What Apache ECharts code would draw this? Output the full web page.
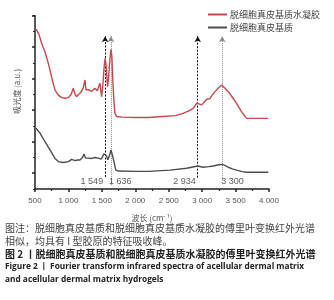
<!DOCTYPE html>
<html><head><meta charset="utf-8">
<script src="https://cdn.jsdelivr.net/npm/echarts@6/dist/echarts.min.js"></script>
<style>html,body{margin:0;padding:0;background:#fff}#c{width:334px;height:300px}</style>
</head><body><div id="c"></div>
<script>
// ---- data (wavenumber cm-1, absorbance a.u.) ----
const seriesNames = ['脱细胞真皮基质水凝胶', '脱细胞真皮基质'];
const hydrogelSpectrum = [[520,5.07],[560,4.9],[600,4.62],[650,4.35],[700,3.98],[724,3.78],[760,3.45],[799,3.14],[849,2.98],[900,2.9],[950,2.88],[999,2.9],[1040,3.0],[1073,3.2],[1100,3.0],[1124,2.93],[1150,3.0],[1183,3.06],[1220,3.2],[1248,3.46],[1262,3.15],[1273,3.09],[1300,3.15],[1323,3.2],[1350,3.1],[1373,3.09],[1395,3.2],[1412,3.25],[1430,3.12],[1447,3.14],[1472,3.36],[1485,3.1],[1497,2.93],[1515,3.3],[1535,3.9],[1549,4.15],[1565,3.9],[1585,3.25],[1600,3.5],[1615,4.0],[1636,4.43],[1650,4.2],[1665,3.4],[1680,2.8],[1696,2.4],[1720,2.3],[1800,2.28],[2000,2.27],[2200,2.27],[2400,2.3],[2600,2.33],[2717,2.4],[2800,2.48],[2867,2.56],[2917,2.72],[2950,2.7],[2993,2.67],[3030,2.75],[3067,2.85],[3117,2.87],[3150,2.98],[3191,3.09],[3240,3.2],[3291,3.3],[3330,3.22],[3391,3.09],[3450,2.92],[3515,2.72],[3590,2.45],[3665,2.24],[3750,2.24],[3900,2.24],[3990,2.24]];
const matrixSpectrum = [[515,1.93],[575,1.77],[650,1.5],[724,1.24],[799,0.97],[849,0.87],[924,0.84],[999,0.87],[1049,0.94],[1075,0.9],[1098,0.9],[1135,0.92],[1173,0.92],[1210,1.0],[1233,1.11],[1255,0.98],[1273,0.94],[1300,0.98],[1323,1.0],[1350,0.97],[1373,0.97],[1400,1.0],[1423,1.05],[1445,0.98],[1472,0.97],[1490,0.95],[1510,1.02],[1530,1.12],[1549,1.18],[1570,1.05],[1590,0.93],[1606,0.92],[1620,1.1],[1636,1.24],[1655,1.1],[1681,0.87],[1700,0.68],[1711,0.6],[1750,0.57],[2000,0.56],[2200,0.56],[2519,0.6],[2768,0.66],[2934,0.73],[3017,0.69],[3100,0.71],[3167,0.73],[3250,0.77],[3300,0.78],[3340,0.75],[3391,0.69],[3450,0.64],[3515,0.6],[3600,0.55],[3665,0.53],[3800,0.53],[3990,0.53]];
const peakPositions = [1549, 1636, 2934, 3300];
const peakLabels = ['1 549', '1 636', '2 934', '3 300'];
const peakLineBottoms = [0.38, 0.12, 0.36, 0.28];
const peakLineTop = 4.85;
const peakLabelY = 0.25;
const xTicks = [500, 1000, 1500, 2000, 2500, 3000, 3500, 4000];
const yMajorTicks = [0.5, 1.5, 2.5, 3.5, 4.5, 5.5];
const captionLines = [
  '图注：脱细胞真皮基质和脱细胞真皮基质水凝胶的傅里叶变换红外光谱',
  '相似，均具有 I 型胶原的特征吸收峰。',
  '图 2 丨脱细胞真皮基质和脱细胞真皮基质水凝胶的傅里叶变换红外光谱',
  'Figure 2 丨 Fourier transform infrared spectra of acellular dermal matrix',
  'and acellular dermal matrix hydrogels'
];

// ---- styles ----
const RED = '#c8474c', DARK = '#4d4d4d';
const CJK = '"Noto Sans CJK SC", sans-serif';
const LAT = '"Liberation Sans", Arial, sans-serif';
const dashStyles = [
  {color:'#111', type:[2,1.5], width:1},
  {color:'#888', type:[1,1], width:1},
  {color:'#111', type:[2,1.5], width:1},
  {color:'#888', type:[1,1], width:1}
];
const labelPlacement = [
  {position:'left', distance:2},
  {position:'right', distance:-2},
  {position:'left', distance:2},
  {position:'right', distance:-1}
];

function fmtThousands(v){ const s = String(v); return s.length > 3 ? s.slice(0, s.length-3) + ' ' + s.slice(-3) : s; }

const chart = echarts.init(document.getElementById('c'), null, {renderer:'canvas'});

const markLineData = peakPositions.map((p, i) => [
  {coord:[p, peakLineBottoms[i]], lineStyle: dashStyles[i]},
  {coord:[p, peakLineTop]}
]);

const captionStyles = [
  {fontSize:10, fontWeight:'normal', fill:'#444', fontFamily:CJK},
  {fontSize:10, fontWeight:'normal', fill:'#444', fontFamily:CJK},
  {fontSize:10, fontWeight:'bold', fill:'#222', fontFamily:CJK},
  {fontSize:8.3, fontWeight:'bold', fill:'#222', fontFamily:'"Open Sans", sans-serif'},
  {fontSize:8.3, fontWeight:'bold', fill:'#222', fontFamily:'"Open Sans", sans-serif'}
];
const captionTops = [223, 236, 249, 263, 276];

chart.setOption({
  animation:false,
  grid:{left:35, right:65, top:15.7, bottom:111, containLabel:false},
  legend:{
    orient:'vertical', left:203, top:5, itemGap:4,
    icon:'rect', itemWidth:19, itemHeight:2,
    textStyle:{fontSize:9, color:'#444', fontFamily:CJK, padding:[0,0,0,-2]},
    data:seriesNames
  },
  xAxis:{
    type:'value', min:500, max:4000, interval:500,
    name:'波长 (cm⁻¹)', nameLocation:'middle', nameGap:25,
    nameTextStyle:{fontSize:8, color:'#555', fontFamily:CJK},
    axisLine:{lineStyle:{color:'#222', width:1.5}},
    axisTick:{show:true, inside:false, length:3, lineStyle:{color:'#222', width:1.5}},
    minorTick:{show:true, splitNumber:2, length:2, lineStyle:{color:'#222', width:1.2}},
    axisLabel:{fontSize:8, color:'#555', margin:8, fontFamily:LAT, formatter:fmtThousands,
      customValues: xTicks},
    splitLine:{show:false}
  },
  yAxis:[{
    type:'value', min:0, max:5.5,
    name:'吸光度 (a.u.)', nameLocation:'middle', nameGap:14,
    nameTextStyle:{fontSize:8, color:'#555', fontFamily:CJK, padding:[0,0,0,22]},
    axisLine:{show:true, lineStyle:{color:'#222', width:1.5}},
    axisTick:{show:true, inside:false, length:3, lineStyle:{color:'#222', width:1.5}, customValues:yMajorTicks},
    axisLabel:{show:false, customValues:yMajorTicks},
    splitLine:{show:false}
  },{
    type:'value', min:0, max:5.5, interval:1, position:'left',
    axisLine:{show:false},
    axisTick:{show:true, inside:false, length:2, lineStyle:{color:'#222', width:1.2}},
    axisLabel:{show:false},
    splitLine:{show:false}
  }],
  series:[
    {
      name:seriesNames[0], type:'line', data:hydrogelSpectrum, showSymbol:false,
      lineStyle:{color:RED, width:1.4}, itemStyle:{color:RED}, z:3
    },
    {
      name:seriesNames[1], type:'line', data:matrixSpectrum, showSymbol:false,
      lineStyle:{color:DARK, width:1.4}, itemStyle:{color:DARK}, z:3,
      markLine:{
        silent:true, symbol:['none','arrow'], symbolSize:[5,6],
        label:{show:false}, data:markLineData, z:2
      }
    },
    {
      name:'peaks', type:'scatter', symbolSize:0, silent:true,
      data: peakPositions.map((p, i) => ({
        value:[p, peakLabelY],
        label:{show:true, formatter:peakLabels[i], position:labelPlacement[i].position,
          distance:labelPlacement[i].distance, fontSize:9, color:'#333', fontFamily:LAT}
      }))
    }
  ],
  graphic: captionLines.map((t, i) => ({
    type:'text', left:5, top:captionTops[i], silent:true,
    style:Object.assign({text:t}, captionStyles[i])
  }))
});
</script></body></html>
